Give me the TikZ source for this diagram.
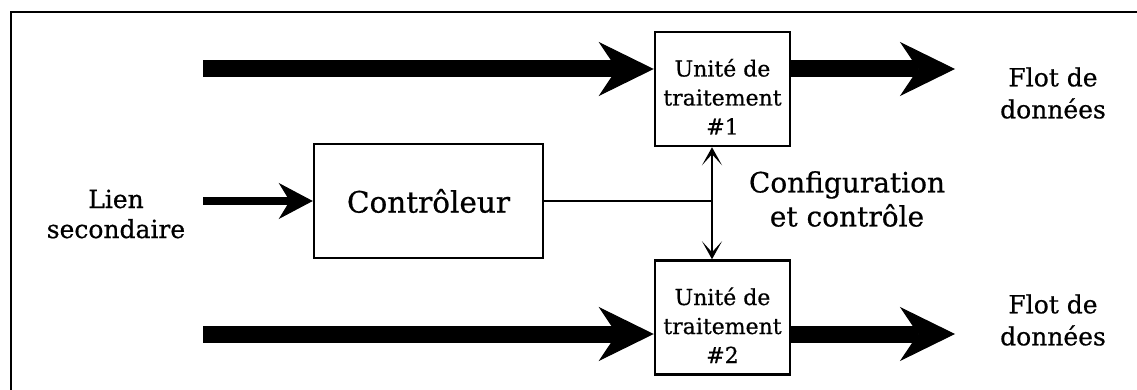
\documentclass[tikz,border=0pt]{standalone}
\usepackage{fontspec}
\setmainfont[FakeBold=0.6]{DejaVu Serif}
\usetikzlibrary{arrows.meta, positioning}
\tikzset{
  unitbox/.style={draw,line width=2.5pt,minimum width=135pt,minimum height=114pt,inner sep=0pt,align=center,font=\fontsize{22}{29}\selectfont},
  ctrlbox/.style={draw,line width=2.5pt,minimum width=229pt,minimum height=114pt,inner sep=0pt,font=\fontsize{29.5}{36}\selectfont},
  flowarrow/.style={line width=17pt,-{Stealth[length=55pt,width=54pt,inset=18pt,line width=1pt]}},
  linkarrow/.style={line width=8pt,-{Stealth[length=34pt,width=36pt,inset=11pt,line width=1pt]}},
  busarrow/.style={line width=2pt,{Stealth[length=18pt,width=20pt,inset=11pt,line width=2pt]}-{Stealth[length=18pt,width=20pt,inset=11pt,line width=2pt]}},
  sidetext/.style={align=center,inner sep=0pt,font=\fontsize{25}{32}\selectfont}
}
\begin{document}
\begin{tikzpicture}[x=1pt,y=-1pt]
\useasboundingbox (0,0) rectangle (1137,390);
\clip (0,0) rectangle (1137,390);
% cadre
\draw[line width=2.5pt] (11,12) rectangle (1160,420);
% blocs
\node[unitbox] (unit1) at (722.5,89) {\rule{0pt}{33pt}Unité de\\traitement\\\#1};
\node[unitbox] (unit2) at (722.5,317.5) {\rule{0pt}{33pt}Unité de\\traitement\\\#2};
\node[ctrlbox] (ctrl) at (428.5,201) {Contrôleur};
% textes
\node[sidetext,font=\fontsize{25}{30}\selectfont] (link) at (116,214) {Lien\\secondaire};
\node[sidetext] (flow1) at (1053,93) {Flot de\\données};
\node[sidetext] (flow2) at (1053,320) {Flot de\\données};
\node[sidetext,font=\fontsize{28}{34}\selectfont] (config) at (847,199) {Configuration\\et contrôle};
% flots
\coordinate (in1) at (203,69);
\coordinate (in2) at (203,334);
\coordinate (out1) at (955,69);
\coordinate (out2) at (955,334);
\draw[flowarrow] (in1) -- (in1 -| unit1.west);
\draw[flowarrow] (in2) -- (in2 -| unit2.west);
\draw[flowarrow] (out1 -| unit1.east) -- (out1);
\draw[flowarrow] (out2 -| unit2.east) -- (out2);
% controle
\coordinate (linkin) at (203,201);
\coordinate (bus) at (712,201);
\draw[linkarrow] (linkin) -- (ctrl.west);
\draw[line width=1.5pt] (ctrl.east) -- (bus);
\draw[busarrow] (unit1.south -| bus) -- (unit2.north -| bus);
\end{tikzpicture}
\end{document}
